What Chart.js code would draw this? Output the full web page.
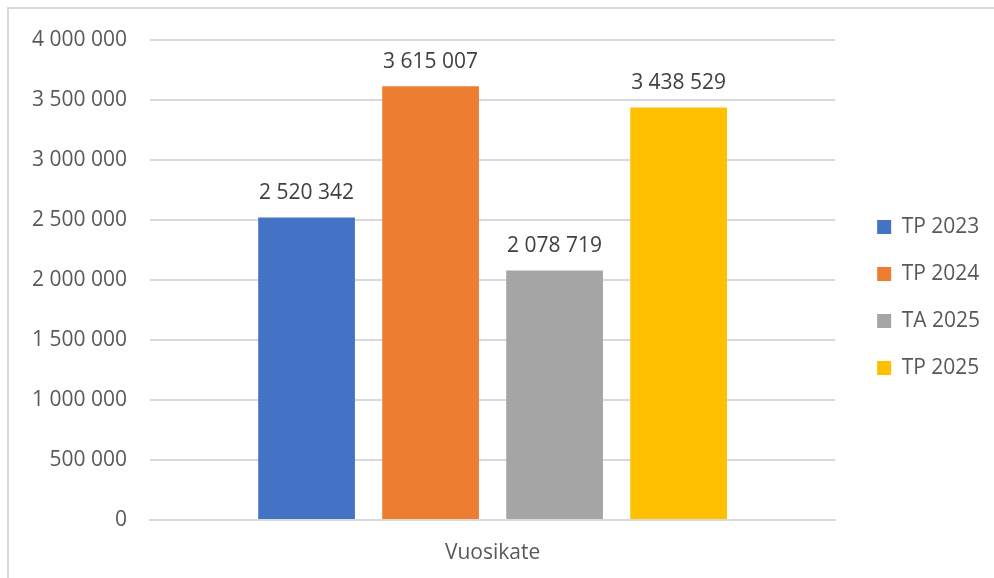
<!DOCTYPE html>
<html>
<head>
<meta charset="utf-8">
<script src="https://cdn.jsdelivr.net/npm/chart.js@4.4.1/dist/chart.umd.min.js"></script>
<style>
  html, body { margin: 0; padding: 0; background: #fff; }
  #frame {
    position: absolute; left: 7px; top: 7px;
    width: 994px; height: 578px;
    border-left: 2px solid #d9d9d9; border-top: 2px solid #d9d9d9;
  }
  #wrap { position: absolute; left: 0; top: 0; width: 994px; height: 578px; }
</style>
</head>
<body>
<div id="frame"></div>
<div id="wrap"><canvas id="myChart"></canvas></div>
<script>
const categories = ["Vuosikate"];
const seriesNames = ["TP 2023", "TP 2024", "TA 2025", "TP 2025"];
const seriesValues = [2520342, 3615007, 2078719, 3438529];
const seriesColors = ["#4472c4", "#ed7d31", "#a5a5a5", "#ffc000"];
const yTicks = [0, 500000, 1000000, 1500000, 2000000, 2500000, 3000000, 3500000, 4000000];

const FONT = "'Open Sans', 'Noto Sans', sans-serif";

function fmt(v) {
    return String(v).replace(/\B(?=(\d{3})+(?!\d))/g, " ");
}

// labels above each bar
const valueLabels = {
    id: 'valueLabels',
    afterDatasetsDraw(chart) {
        const ctx = chart.ctx;
        ctx.save();
        ctx.font = "21px " + FONT;
        ctx.fillStyle = "#404040";
        ctx.textAlign = "center";
        ctx.textBaseline = "bottom";
        chart.data.datasets.forEach((ds, i) => {
            const meta = chart.getDatasetMeta(i);
            meta.data.forEach((bar, j) => {
                ctx.fillText(fmt(ds.data[j]), bar.x, bar.y - 14);
            });
        });
        ctx.restore();
    }
};

// empty axes used only as spacing
function spacer(position, size) {
    return {
        position: position,
        display: true,
        grid: { display: false, drawTicks: false },
        border: { display: false },
        ticks: { display: false },
        afterFit(axis) {
            if (axis.isHorizontal()) axis.height = size; else axis.width = size;
        }
    };
}

window.onload = function () {
    const ctx = document.getElementById("myChart").getContext("2d");

    new Chart(ctx, {
        type: 'bar',
        data: {
            labels: categories,
            datasets: seriesNames.map((name, i) => ({
                label: name,
                data: [seriesValues[i]],
                backgroundColor: seriesColors[i],
                barPercentage: 0.78,
                categoryPercentage: 0.724
            }))
        },
        options: {
            responsive: true,
            maintainAspectRatio: false,
            animation: false,
            layout: { padding: { left: 0, top: 17, right: 4, bottom: 0 } },
            scales: {
                x: {
                    grid: { display: false, drawTicks: false },
                    border: { color: "#d9d9d9", width: 2 },
                    ticks: { color: "#595959", font: { family: FONT, size: 21 }, padding: 20 },
                    afterFit(axis) { axis.height = 58; }
                },
                y: {
                    min: 0, max: 4000000,
                    afterBuildTicks(axis) { axis.ticks = yTicks.map(v => ({ value: v })); },
                    grid: { color: "#d9d9d9", lineWidth: 2, drawTicks: false },
                    border: { display: false },
                    ticks: {
                        color: "#595959", font: { family: FONT, size: 21 }, padding: 23,
                        callback: v => fmt(v)
                    },
                    afterFit(axis) { axis.width = 150; }
                },
                gapTop: spacer('top', 23),
                gapRight: spacer('right', 16)
            },
            plugins: {
                legend: {
                    position: 'right',
                    labels: {
                        color: "#595959",
                        font: { family: FONT, size: 21 },
                        boxWidth: 14, boxHeight: 14,
                        padding: 26
                    }
                },
                tooltip: { enabled: false }
            }
        },
        plugins: [valueLabels]
    });
};
</script>
</body>
</html>
